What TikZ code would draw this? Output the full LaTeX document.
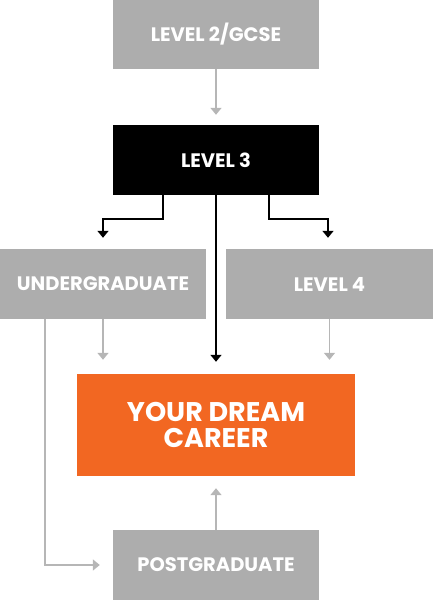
\documentclass[tikz,border=0pt]{standalone}
\usepackage{fontspec}
\setmainfont{Poppins}
\usepackage{tikz}
\usetikzlibrary{arrows.meta,calc}
\definecolor{boxgrey}{HTML}{ADADAD}
\definecolor{linegrey}{HTML}{B6B6B6}
\definecolor{dreamorange}{HTML}{F26722}
\begin{document}
\begin{tikzpicture}[x=1pt,y=1pt,
    stage/.style={fill=boxgrey, text=white, font=\bfseries\fontsize{19.5}{22}\selectfont,
      minimum width=206pt, minimum height=70pt, inner sep=0pt, align=center},
    gline/.style={draw=linegrey, line width=1.5pt, -{Triangle[width=11pt,length=7pt]}},
    bline/.style={draw=black, line width=1.5pt, -{Triangle[width=11pt,length=7pt]}}]
  \useasboundingbox (0,0) rectangle (433,600);
  % boxes
  \node[stage, minimum height=69pt] (gcse) at (216,565.5) {LEVEL 2/GCSE};
  \node[stage, fill=black] (lvl3) at (216,440) {LEVEL 3};
  \node[stage] (ug) at (103,316) {UNDERGRADUATE};
  \node[stage, minimum width=207pt] (lvl4) at (329.5,316) {LEVEL 4};
  \node[stage, fill=dreamorange, minimum width=278pt, minimum height=102pt,
    font=\bfseries\fontsize{27}{26}\selectfont] (career) at (216,175) {YOUR DREAM\\CAREER};
  \node[stage] (pg) at (216,35) {POSTGRADUATE};
  % connectors
  \path[gline, shorten >=10pt] (gcse) -- (lvl3);
  \path[bline, shorten >=11pt] ($(lvl3.south)+(-53,0)$) -- ++(0,-24) -| (ug);
  \path[bline, shorten >=11pt] ($(lvl3.south)+(53,0)$) -- ++(0,-24) -| ($(lvl4.north)+(-1.5,0)$);
  \path[bline, shorten >=12pt] (lvl3) -- (career);
  \path[gline, shorten >=14pt] (ug) -- (ug |- career.north);
  \path[gline, shorten >=14pt] (lvl4) -- (lvl4 |- career.north);
  \path[gline, shorten >=13pt] ($(ug.south)+(-58,0)$) |- (pg);
  \path[gline, shorten >=12pt] (pg) -- (career);
\end{tikzpicture}
\end{document}
